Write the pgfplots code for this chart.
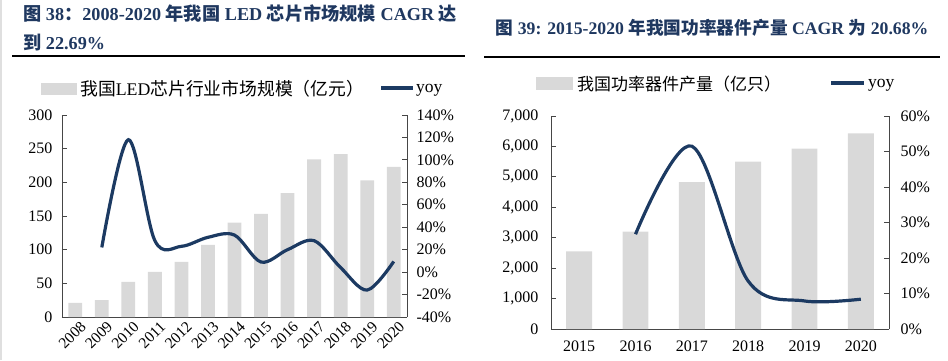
\documentclass[border=0pt]{standalone}
\usepackage{pgfplots}
\pgfplotsset{compat=1.18}
\usepackage{fontspec}
\setmainfont{Liberation Serif}
\newfontfamily\cjk{Noto Sans CJK SC}
\definecolor{navy}{RGB}{28,58,98}
\definecolor{barfill}{RGB}{217,217,217}
\definecolor{titlec}{RGB}{31,56,96}
\definecolor{axc}{RGB}{70,70,70}
\pgfplotsset{
  base/.style={scale only axis, anchor=south west,
    /pgf/number format/assume math mode=true,
    tick label style={font=\fontsize{16}{19}\selectfont, text=black},
    tick align=inside, major tick length=5pt, minor tick length=5pt,
    axis line style={axc, line width=0.8pt}, tick style={axc, line width=0.8pt},
    clip=false},
}
\begin{document}
\begin{tikzpicture}[x=1pt,y=1pt]
\useasboundingbox (0,0) rectangle (948,360);
\draw[gray!25, line width=2pt] (1,0) -- (1,360);
% ---------- Left titles ----------
\node[anchor=west, text=titlec, font=\fontsize{18.2}{21}\selectfont\bfseries, inner sep=0] at (23,346)
 {{\cjk 图} 38{\cjk ：}2008-2020 {\cjk 年我国} LED {\cjk 芯片市场规模} CAGR {\cjk 达}};
\node[anchor=west, text=titlec, font=\fontsize{18.2}{21}\selectfont\bfseries, inner sep=0] at (23,317)
 {{\cjk 到} 22.69\%};
\draw[black, line width=1.6pt] (12,304) -- (465,304);
% legend left
\fill[barfill] (41,265) rectangle (77,277);
\node[anchor=west, inner sep=0, font=\fontsize{17.8}{20}\selectfont] at (80,271) {{\cjk 我国}LED{\cjk 芯片行业市场规模（亿元）}};
\draw[navy, line width=3.2pt] (381,272) -- (413,272);
\node[anchor=west, inner sep=0, font=\fontsize{17.5}{20}\selectfont] at (416,270) {yoy};

\begin{axis}[base, at={(62pt,43pt)}, width=345pt, height=202pt,
  xmin=-0.5, xmax=12.5, ymin=0, ymax=300, ytick={0,50,...,300},
  axis y line*=left, axis x line*=bottom,
  xtick={0,...,12}, xticklabels={2008,2009,2010,2011,2012,2013,2014,2015,2016,2017,2018,2019,2020},
  x tick style={draw=none}, minor xtick={0.5,1.5,...,11.5},
  minor x tick style={axc, line width=0.8pt},
  xticklabel style={rotate=45, anchor=north east, xshift=4pt, yshift=-2pt, font=\fontsize{15.5}{18}\selectfont},
  yticklabel style={xshift=-6pt}]
\addplot[ybar, bar width=0.52, bar shift=0pt, fill=barfill, draw=none] coordinates {
(0,21) (1,25) (2,52) (3,67) (4,82) (5,107) (6,140) (7,153) (8,184) (9,234) (10,242) (11,203) (12,223)};
\end{axis}
\begin{axis}[base, at={(62pt,43pt)}, width=345pt, height=202pt,
  xmin=-0.5, xmax=12.5, ymin=-40, ymax=140, ytick={-40,-20,...,140},
  axis y line*=right, axis x line=none,
  yticklabel={\pgfmathprintnumber{\tick}\%}, yticklabel style={xshift=6pt}]
\addplot[navy, line width=3.2pt, smooth, tension=0.55] coordinates {
(1,22) (2,118) (3,28) (4,23) (5,31) (6,33) (7,9) (8,20) (9,28) (10,4) (11,-16) (12,9.5)};
\end{axis}

% ---------- Right ----------
\node[text=titlec, font=\fontsize{17.7}{20}\selectfont\bfseries, inner sep=0] at (712,332)
 {{\cjk 图} 39: 2015-2020 {\cjk 年我国功率器件产量} CAGR {\cjk 为} 20.68\%};
\draw[black, line width=1.6pt] (484,303) -- (940,303);
\fill[barfill] (536,270) rectangle (573,283);
\node[anchor=west, inner sep=0, font=\fontsize{17}{20}\selectfont] at (577,276) {\cjk 我国功率器件产量（亿只）};
\draw[navy, line width=3.2pt] (831,277) -- (864,277);
\node[anchor=west, inner sep=0, font=\fontsize{17.5}{20}\selectfont] at (868,275) {yoy};

\begin{axis}[base, at={(551pt,31pt)}, width=338pt, height=213pt,
  xmin=-0.5, xmax=5.5, ymin=0, ymax=7000, ytick={0,1000,...,7000},
  axis y line*=left, axis x line*=bottom,
  xtick={0,...,5}, xticklabels={2015,2016,2017,2018,2019,2020},
  x tick style={draw=none}, minor xtick={0.5,1.5,...,4.5},
  minor x tick style={axc, line width=0.8pt},
  /pgf/number format/1000 sep={,},
  xticklabel style={yshift=-8pt},
  yticklabel style={xshift=-9pt}]
\addplot[ybar, bar width=0.46, bar shift=0pt, fill=barfill, draw=none] coordinates {
(0,2550) (1,3200) (2,4830) (3,5500) (4,5930) (5,6430)};
\end{axis}
\begin{axis}[base, at={(551pt,31pt)}, width=338pt, height=213pt,
  xmin=-0.5, xmax=5.5, ymin=0, ymax=60, ytick={0,10,...,60},
  axis y line*=right, axis x line=none,
  yticklabel={\pgfmathprintnumber{\tick}\%}, yticklabel style={xshift=8pt}]
\addplot[navy, line width=3.2pt, smooth, tension=0.55] coordinates {
(1,26.7) (2,51.5) (3,13.5) (4,7.9) (5,8.4)};
\end{axis}
\end{tikzpicture}
\end{document}
